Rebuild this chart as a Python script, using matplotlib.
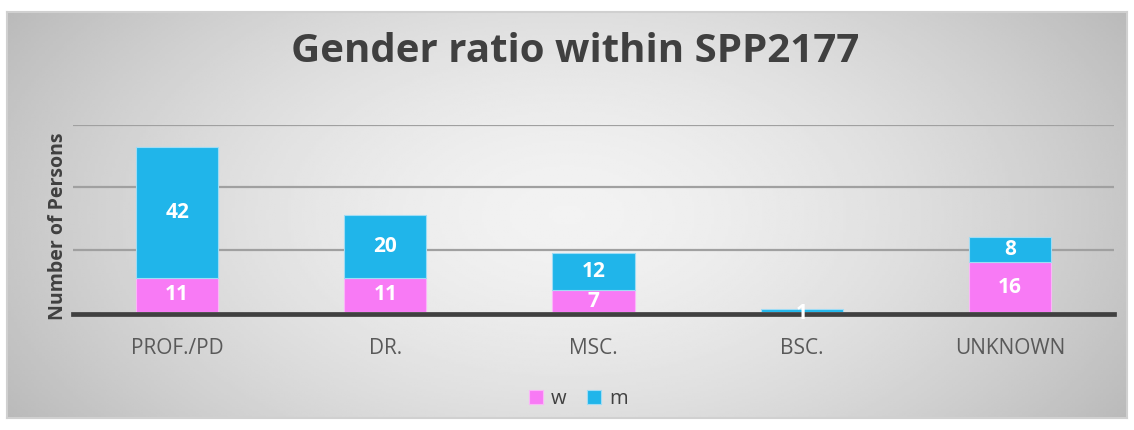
import numpy as np
import matplotlib
matplotlib.use('Agg')
import matplotlib.pyplot as plt

# Data
categories = ["PROF./PD", "DR.", "MSC.", "BSC.", "UNKNOWN"]
women = [11, 11, 7, 0, 16]
men = [42, 20, 12, 1, 8]

pink = '#f87af5'
blue = '#20b5ea'
plt.rcParams['font.family'] = ['Open Sans', 'DejaVu Sans']

fig = plt.figure(figsize=(11.34, 4.30), dpi=100)
fig.patch.set_facecolor('white')

# radial grey background of the chart frame
bg = fig.add_axes([7/1134, 12/430, 1120/1134, 406/430])
yy, xx = np.mgrid[-1:1:200j, -1:1:400j]
r = np.sqrt((xx / 1.0) ** 2 + (yy / 1.6) ** 2)
bg.imshow(0.95 - 0.17 * np.clip(r, 0, 1.2) ** 1.6, cmap='gray', vmin=0, vmax=1,
          aspect='auto', extent=[0, 1, 0, 1])
bg.set_xlim(0, 1)
bg.set_ylim(0, 1)
bg.set_xticks([])
bg.set_yticks([])
for s in bg.spines.values():
    s.set_color('#d0d0d0')
    s.set_linewidth(1.5)

ax = fig.add_axes([73/1134, 1 - 312/430, 1041/1134, 187/430])
ax.patch.set_alpha(0)
x = np.arange(len(categories))
width = 0.395

ax.bar(x, women, width, color=pink, edgecolor='#fbb6f8', linewidth=0.8, label='w', zorder=3)
ax.bar(x, men, width, bottom=women, color=blue, edgecolor='#9fdcf5', linewidth=0.8, label='m', zorder=3)

for i in range(len(categories)):
    if women[i] > 0:
        ax.text(x[i], women[i] / 2, str(women[i]), ha='center', va='center',
                color='white', fontsize=15, fontweight='bold', zorder=5)
    if men[i] > 0:
        ypos = women[i] + men[i] / 2 if men[i] > 2 else -0.4
        ax.text(x[i], ypos, str(men[i]), ha='center', va='center',
                color='white', fontsize=15, fontweight='bold', zorder=5)

ax.set_xlim(-0.5, len(categories) - 0.5)
ax.set_ylim(0, 60)
ax.set_yticks([20, 40, 60])
ax.yaxis.grid(True, color='#a0a0a0', linewidth=1.6, zorder=0)
ax.tick_params(axis='y', length=0, labelleft=False)
ax.tick_params(axis='x', length=0, pad=17, labelsize=15, labelcolor='#595959')
ax.set_xticks(x)
ax.set_xticklabels(categories)
for s in ['top', 'right', 'left']:
    ax.spines[s].set_visible(False)
ax.spines['bottom'].set_color('#404040')
ax.spines['bottom'].set_linewidth(3.4)
ax.spines['bottom'].set_position(('outward', 1.6))
ax.spines['bottom'].set_zorder(4)

fig.text(0.507, 0.88, "Gender ratio within SPP2177", ha='center', va='center',
         fontsize=29, fontweight='bold', color='#404040')
fig.text(0.051, 0.474, "Number of Persons", ha='center', va='center', rotation=90,
         fontsize=14, fontweight='bold', color='#404040')

leg = fig.legend(loc='center', bbox_to_anchor=(0.51, 0.072), ncol=2, frameon=False,
                 fontsize=14.5, handlelength=0.7, handleheight=0.7, columnspacing=1.0,
                 handletextpad=0.4)
for t in leg.get_texts():
    t.set_color('#404040')

plt.savefig('out.png', dpi=100)
